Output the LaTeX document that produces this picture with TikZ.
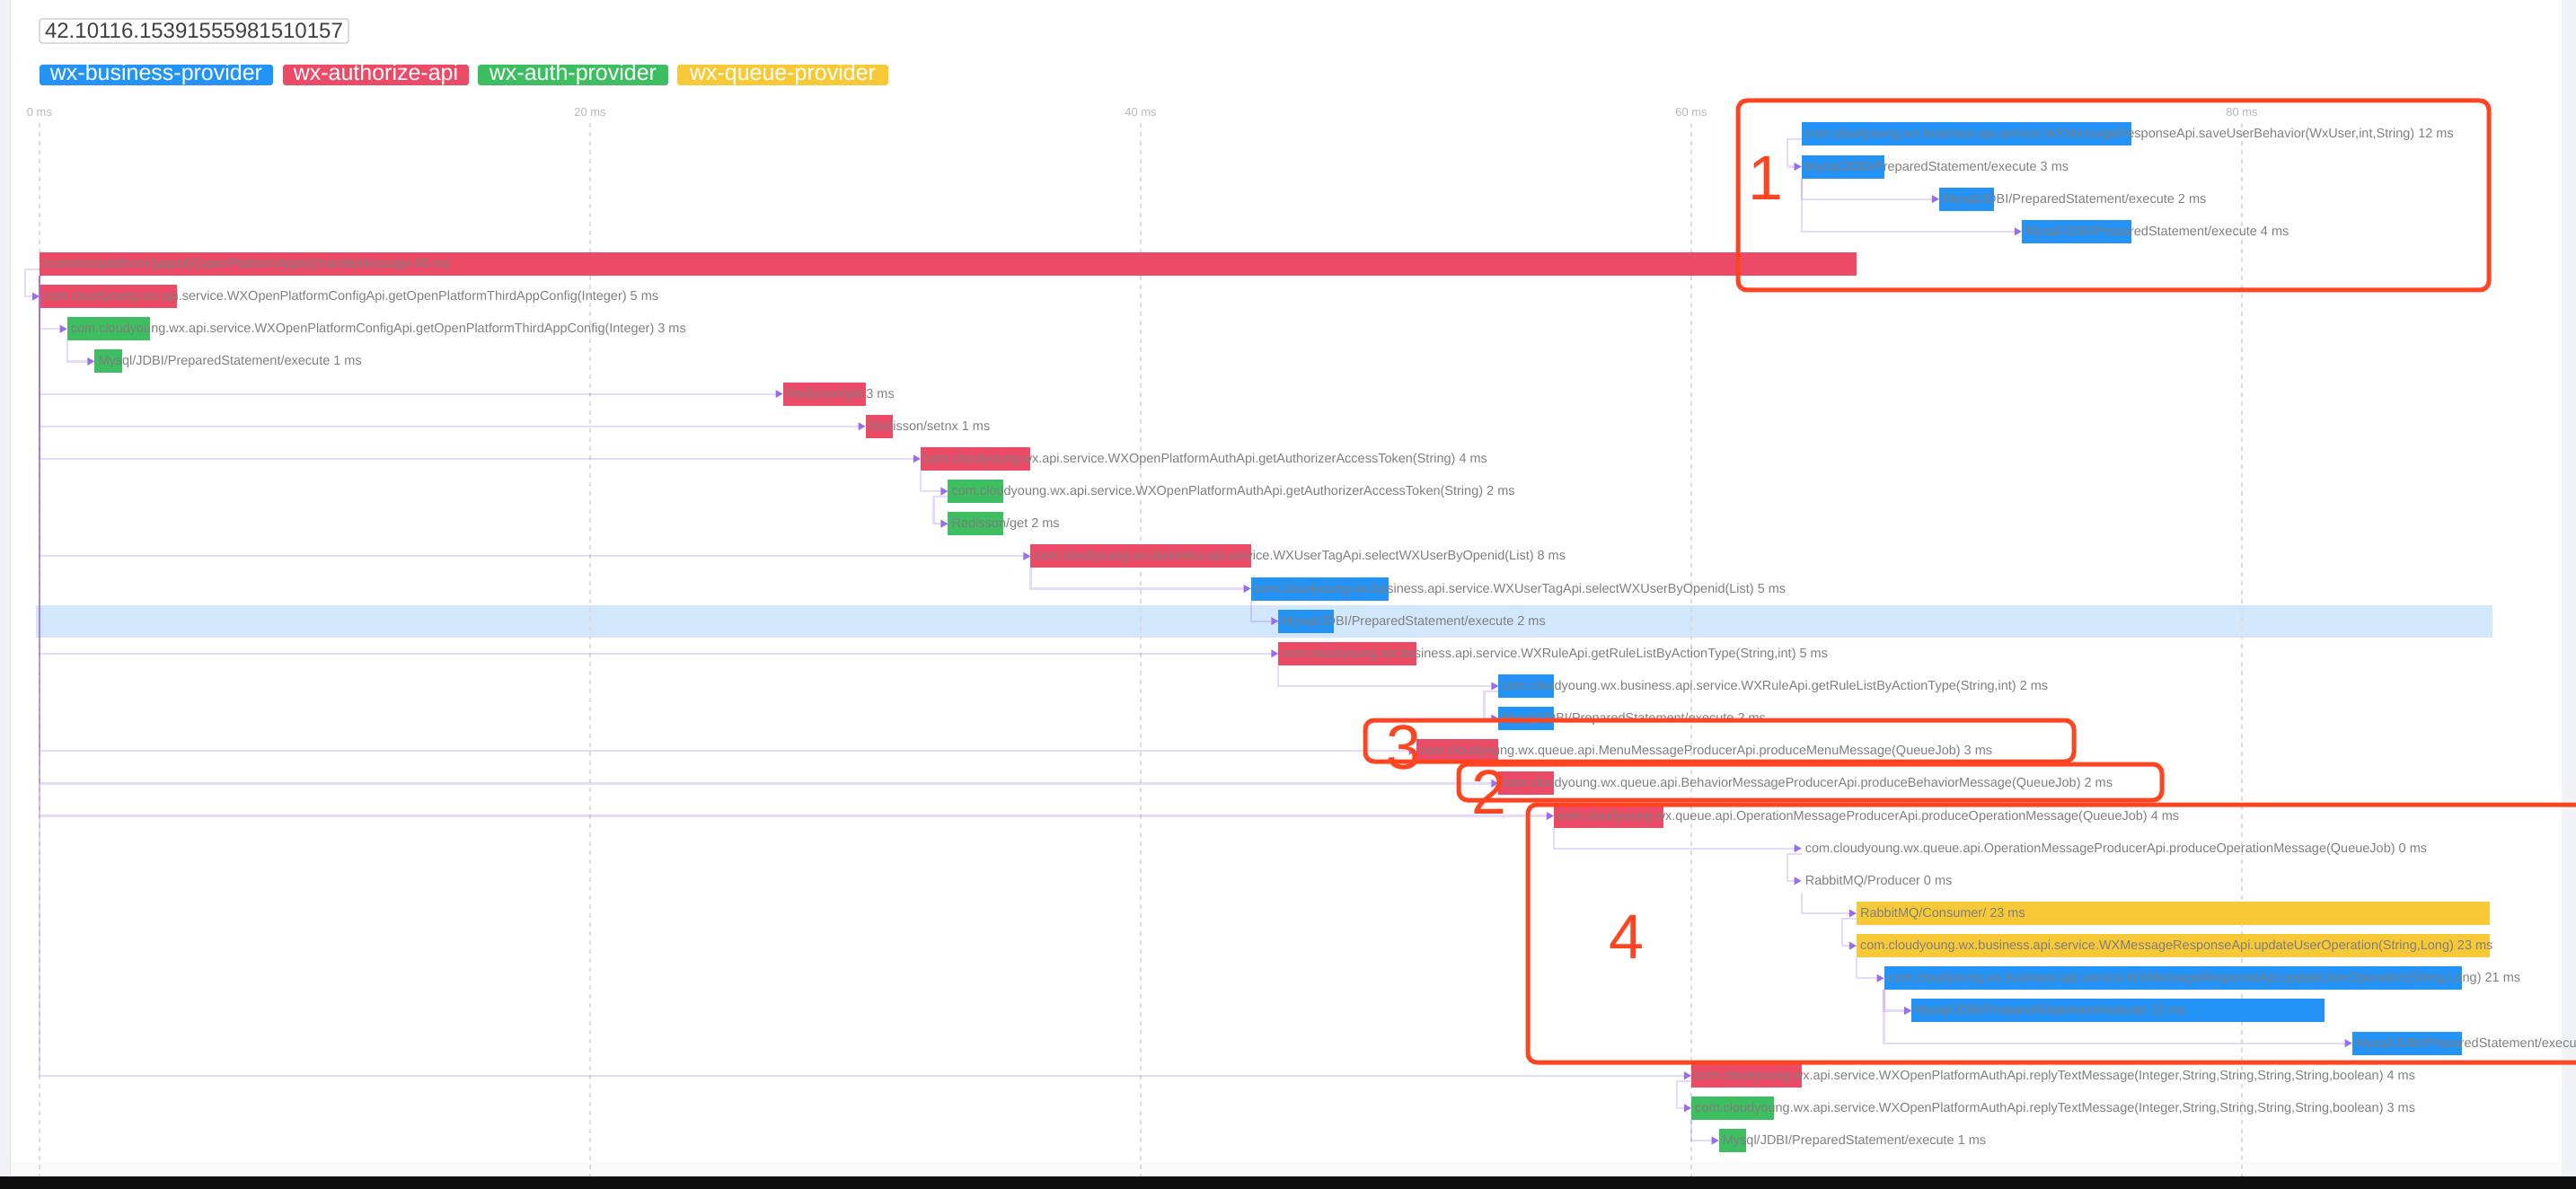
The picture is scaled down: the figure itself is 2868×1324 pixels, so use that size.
\documentclass[tikz,border=0pt]{standalone}
\usepackage{fontspec}
\setmainfont{Liberation Sans}
\usetikzlibrary{arrows.meta,positioning}

\definecolor{bizblue}{HTML}{2393F7}
\definecolor{authred}{HTML}{EC4B68}
\definecolor{authgreen}{HTML}{3DBE60}
\definecolor{queueyellow}{HTML}{F8C936}
\definecolor{linkpurple}{HTML}{9B6CF0}
\definecolor{rowhl}{HTML}{D3E7FC}
\definecolor{txtgray}{HTML}{7F7F7F}
\definecolor{gridgray}{HTML}{DDDDDD}
\definecolor{markred}{HTML}{FF4422}
\definecolor{sidegray}{HTML}{F0F2F5}

\newcommand{\msw}{30.65pt}

\tikzset{
  bar/.style={anchor=west, minimum height=26pt, inner sep=0pt, outer sep=0pt},
  bizbar/.style={bar, fill=bizblue},
  redbar/.style={bar, fill=authred},
  greenbar/.style={bar, fill=authgreen},
  queuebar/.style={bar, fill=queueyellow},
  txt/.style={anchor=base west, inner sep=0pt, text=txtgray, font=\fontsize{14.5}{17}\selectfont},
  link/.style={draw=linkpurple, draw opacity=0.25, line width=2.2pt, -{Triangle[length=8pt,width=9pt,line width=0pt]}},
  gridline/.style={draw=gridgray, line width=1.3pt, dash pattern=on 5pt off 5pt},
  axislbl/.style={text=black!28, inner sep=0pt, font=\fontsize{13}{15}\selectfont},
  tag/.style={rounded corners=3pt, minimum height=23pt, inner sep=0pt, outer sep=0pt, text=white, text height=18pt, text depth=5pt, font=\fontsize{25}{28}\selectfont},
  markbox/.style={draw=markred, line width=5pt, rounded corners=10pt},
  marknum/.style={text=markred, inner sep=0pt, font=\fontsize{70}{80}\selectfont},
}

\begin{document}
\begin{tikzpicture}[x=1pt, y=-1pt]
    \useasboundingbox (0,0) rectangle (2868,1324);

    % page frame
    \fill[sidegray] (0,0) rectangle (11,1310);
    \draw[black!10, line width=1pt] (11.5,0) -- (11.5,1310);
    \fill[sidegray] (2852,0) rectangle (2868,1310);
    \fill[black!2] (12,1294) rectangle (2852,1310);
    \fill[black!94] (0,1310) rectangle (2868,1324);

    % trace id and legend
    \node[draw=black!22, line width=1.2pt, rounded corners=3pt, minimum width=344pt, minimum height=27pt, inner sep=0pt, text=black!75, font=\fontsize{24}{26}\selectfont] (traceid) at (216,34.5) {42.10116.15391555981510157};
    \node[tag, fill=bizblue, minimum width=260pt] (tagbiz) at (174,83.5) {wx-business-provider};
    \node[tag, fill=authred, minimum width=207pt, right=11pt of tagbiz] (tagauth) {wx-authorize-api};
    \node[tag, fill=authgreen, minimum width=212pt, right=10pt of tagauth] (tagauthp) {wx-auth-provider};
    \node[tag, fill=queueyellow, minimum width=235pt, right=10pt of tagauthp] (tagqueue) {wx-queue-provider};

    % selected row
    \fill[rowhl] (39.5,673.5) rectangle (2775,709.5);

    % time axis
    \foreach \i/\t in {0/0,1/20,2/40,3/60,4/80} {
        \draw[gridline] (44+613*\i,137) -- (44+613*\i,1310);
        \node[axislbl] (ms\i) at (44+613*\i,125) {\t\ ms};
    }

    \begin{scope}[shift={(44,294)}, x=30.65pt, y=-36.15pt]

    % bars
    \node[redbar, minimum width=66*\msw] (root) at (0,0) {};
    \node[redbar, minimum width=5*\msw] (r1) at (0,1) {};
    \node[greenbar, minimum width=3*\msw] (r2) at (1,2) {};
    \node[greenbar, minimum width=1*\msw] (r3) at (2,3) {};
    \node[redbar, minimum width=3*\msw] (r4) at (27,4) {};
    \node[redbar, minimum width=1*\msw] (r5) at (30,5) {};
    \node[redbar, minimum width=4*\msw] (r6) at (32,6) {};
    \node[greenbar, minimum width=2*\msw] (r7) at (33,7) {};
    \node[greenbar, minimum width=2*\msw] (r8) at (33,8) {};
    \node[redbar, minimum width=8*\msw] (r9) at (36,9) {};
    \node[bizbar, minimum width=5*\msw] (r10) at (44,10) {};
    \node[bizbar, minimum width=2*\msw] (r11) at (45,11) {};
    \node[redbar, minimum width=5*\msw] (r12) at (45,12) {};
    \node[bizbar, minimum width=2*\msw] (r13) at (53,13) {};
    \node[bizbar, minimum width=2*\msw] (r14) at (53,14) {};
    \node[redbar, minimum width=3*\msw] (r15) at (50,15) {};
    \node[redbar, minimum width=2*\msw] (r16) at (53,16) {};
    \node[redbar, minimum width=4*\msw] (r17) at (55,17) {};
    \coordinate (r18) at (64,18);
    \coordinate (r19) at (64,19);
    \node[queuebar, minimum width=23*\msw] (r20) at (66,20) {};
    \node[queuebar, minimum width=23*\msw] (r21) at (66,21) {};
    \node[bizbar, minimum width=21*\msw] (r22) at (67,22) {};
    \node[bizbar, minimum width=15*\msw] (r23) at (68,23) {};
    \node[bizbar, minimum width=4*\msw] (r24) at (84,24) {};
    \node[redbar, minimum width=4*\msw] (r25) at (60,25) {};
    \node[greenbar, minimum width=3*\msw] (r26) at (60,26) {};
    \node[greenbar, minimum width=1*\msw] (r27) at (61,27) {};

    % pasted rows (box 1)
    \node[bizbar, minimum width=12*\msw] (b1) at (64,-4) {};
    \node[bizbar, minimum width=3*\msw] (b2) at (64,-3) {};
    \node[bizbar, minimum width=2*\msw] (b3) at (69,-2) {};
    \node[bizbar, minimum width=4*\msw] (b4) at (72,-1) {};

    % links
    \draw[link] ([yshift=-6pt]root.west) -- ++(-16pt,0pt) |- (r1.west); % root -> r1
    \draw[link] (r1.south west) |- (r2.west); % r1 -> r2
    \draw[link] (r2.south west) |- (r3.west); % r2 -> r3
    \draw[link] (root.south west) |- (r4.west); % root -> r4
    \draw[link] (root.south west) |- (r5.west); % root -> r5
    \draw[link] (root.south west) |- (r6.west); % root -> r6
    \draw[link] (r6.south west) |- (r7.west); % r6 -> r7
    \draw[link] ([yshift=-6pt]r7.west) -- ++(-16pt,0pt) |- (r8.west); % r7 -> r8
    \draw[link] (root.south west) |- (r9.west); % root -> r9
    \draw[link] (r9.south west) |- (r10.west); % r9 -> r10
    \draw[link] (r10.south west) |- (r11.west); % r10 -> r11
    \draw[link] (root.south west) |- (r12.west); % root -> r12
    \draw[link] (r12.south west) |- (r13.west); % r12 -> r13
    \draw[link] ([yshift=-6pt]r13.west) -- ++(-16pt,0pt) |- (r14.west); % r13 -> r14
    \draw[link] (root.south west) |- (r15.west); % root -> r15
    \draw[link] (root.south west) |- (r16.west); % root -> r16
    \draw[link] (root.south west) |- (r17.west); % root -> r17
    \draw[link] (r17.south west) |- (r18); % r17 -> r18
    \draw[link] ([yshift=-6pt]r18) -- ++(-16pt,0pt) |- (r19); % r18 -> r19
    \draw[link] ([yshift=-13pt]r19) |- (r20.west); % r19 -> r20
    \draw[link] ([yshift=-6pt]r20.west) -- ++(-16pt,0pt) |- (r21.west); % r20 -> r21
    \draw[link] (r21.south west) |- (r22.west); % r21 -> r22
    \draw[link] (r22.south west) |- (r23.west); % r22 -> r23
    \draw[link] (r22.south west) |- (r24.west); % r22 -> r24
    \draw[link] (root.south west) |- (r25.west); % root -> r25
    \draw[link] ([yshift=-6pt]r25.west) -- ++(-16pt,0pt) |- (r26.west); % r25 -> r26
    \draw[link] (r26.south west) |- (r27.west); % r26 -> r27
    \draw[link] ([yshift=-6pt]b1.west) -- ++(-16pt,0pt) |- (b2.west); % b1 -> b2
    \draw[link] (b2.south west) |- (b3.west); % b2 -> b3
    \draw[link] (b2.south west) |- (b4.west); % b2 -> b4

    % labels
    \node[txt] (roott) at ([xshift=4pt,yshift=-4.5pt]root.west) {/common/platfrom/\{appid\}/\{openPlatformAppId\}/handleMessage 66 ms};
    \node[txt] (r1t) at ([xshift=4pt,yshift=-4.5pt]r1.west) {com.cloudyoung.wx.api.service.WXOpenPlatformConfigApi.getOpenPlatformThirdAppConfig(Integer) 5 ms};
    \node[txt] (r2t) at ([xshift=4pt,yshift=-4.5pt]r2.west) {com.cloudyoung.wx.api.service.WXOpenPlatformConfigApi.getOpenPlatformThirdAppConfig(Integer) 3 ms};
    \node[txt] (r3t) at ([xshift=4pt,yshift=-4.5pt]r3.west) {Mysql/JDBI/PreparedStatement/execute 1 ms};
    \node[txt] (r4t) at ([xshift=4pt,yshift=-4.5pt]r4.west) {Redisson/get 3 ms};
    \node[txt] (r5t) at ([xshift=4pt,yshift=-4.5pt]r5.west) {Redisson/setnx 1 ms};
    \node[txt] (r6t) at ([xshift=4pt,yshift=-4.5pt]r6.west) {com.cloudyoung.wx.api.service.WXOpenPlatformAuthApi.getAuthorizerAccessToken(String) 4 ms};
    \node[txt] (r7t) at ([xshift=4pt,yshift=-4.5pt]r7.west) {com.cloudyoung.wx.api.service.WXOpenPlatformAuthApi.getAuthorizerAccessToken(String) 2 ms};
    \node[txt] (r8t) at ([xshift=4pt,yshift=-4.5pt]r8.west) {Redisson/get 2 ms};
    \node[txt] (r9t) at ([xshift=4pt,yshift=-4.5pt]r9.west) {com.cloudyoung.wx.business.api.service.WXUserTagApi.selectWXUserByOpenid(List) 8 ms};
    \node[txt] (r10t) at ([xshift=4pt,yshift=-4.5pt]r10.west) {com.cloudyoung.wx.business.api.service.WXUserTagApi.selectWXUserByOpenid(List) 5 ms};
    \node[txt] (r11t) at ([xshift=4pt,yshift=-4.5pt]r11.west) {Mysql/JDBI/PreparedStatement/execute 2 ms};
    \node[txt] (r12t) at ([xshift=4pt,yshift=-4.5pt]r12.west) {com.cloudyoung.wx.business.api.service.WXRuleApi.getRuleListByActionType(String,int) 5 ms};
    \node[txt] (r13t) at ([xshift=4pt,yshift=-4.5pt]r13.west) {com.cloudyoung.wx.business.api.service.WXRuleApi.getRuleListByActionType(String,int) 2 ms};
    \node[txt] (r14t) at ([xshift=4pt,yshift=-4.5pt]r14.west) {Mysql/JDBI/PreparedStatement/execute 2 ms};
    \node[txt] (r15t) at ([xshift=4pt,yshift=-4.5pt]r15.west) {com.cloudyoung.wx.queue.api.MenuMessageProducerApi.produceMenuMessage(QueueJob) 3 ms};
    \node[txt] (r16t) at ([xshift=4pt,yshift=-4.5pt]r16.west) {com.cloudyoung.wx.queue.api.BehaviorMessageProducerApi.produceBehaviorMessage(QueueJob) 2 ms};
    \node[txt] (r17t) at ([xshift=4pt,yshift=-4.5pt]r17.west) {com.cloudyoung.wx.queue.api.OperationMessageProducerApi.produceOperationMessage(QueueJob) 4 ms};
    \node[txt] (r18t) at ([xshift=4pt,yshift=-4.5pt]r18) {com.cloudyoung.wx.queue.api.OperationMessageProducerApi.produceOperationMessage(QueueJob) 0 ms};
    \node[txt] (r19t) at ([xshift=4pt,yshift=-4.5pt]r19) {RabbitMQ/Producer 0 ms};
    \node[txt] (r20t) at ([xshift=4pt,yshift=-4.5pt]r20.west) {RabbitMQ/Consumer/ 23 ms};
    \node[txt] (r21t) at ([xshift=4pt,yshift=-4.5pt]r21.west) {com.cloudyoung.wx.business.api.service.WXMessageResponseApi.updateUserOperation(String,Long) 23 ms};
    \node[txt] (r22t) at ([xshift=4pt,yshift=-4.5pt]r22.west) {com.cloudyoung.wx.business.api.service.WXMessageResponseApi.updateUserOperation(String,Long) 21 ms};
    \node[txt] (r23t) at ([xshift=4pt,yshift=-4.5pt]r23.west) {Mysql/JDBI/PreparedStatement/execute 15 ms};
    \node[txt] (r24t) at ([xshift=4pt,yshift=-4.5pt]r24.west) {Mysql/JDBI/PreparedStatement/execu};
    \node[txt] (r25t) at ([xshift=4pt,yshift=-4.5pt]r25.west) {com.cloudyoung.wx.api.service.WXOpenPlatformAuthApi.replyTextMessage(Integer,String,String,String,String,boolean) 4 ms};
    \node[txt] (r26t) at ([xshift=4pt,yshift=-4.5pt]r26.west) {com.cloudyoung.wx.api.service.WXOpenPlatformAuthApi.replyTextMessage(Integer,String,String,String,String,boolean) 3 ms};
    \node[txt] (r27t) at ([xshift=4pt,yshift=-4.5pt]r27.west) {Mysql/JDBI/PreparedStatement/execute 1 ms};
    \node[txt] (b1t) at ([xshift=4pt,yshift=-4.5pt]b1.west) {com.cloudyoung.wx.business.api.service.WXMessageResponseApi.saveUserBehavior(WxUser,int,String) 12 ms};
    \node[txt] (b2t) at ([xshift=4pt,yshift=-4.5pt]b2.west) {Mysql/JDBI/PreparedStatement/execute 3 ms};
    \node[txt] (b3t) at ([xshift=4pt,yshift=-4.5pt]b3.west) {Mysql/JDBI/PreparedStatement/execute 2 ms};
    \node[txt] (b4t) at ([xshift=4pt,yshift=-4.5pt]b4.west) {Mysql/JDBI/PreparedStatement/execute 4 ms};

    \end{scope}

    % red marks
    \draw[markbox] (1935,112) rectangle (2771,323); % box 1
    \draw[markbox] (1520,802) rectangle (2309,848); % box 3
    \draw[markbox] (1624,851) rectangle (2407,891); % box 2
    \draw[markbox] (2868,896) -- (1701,896) -- (1701,1183) -- (2868,1183); % box 4
    \node[marknum] (mark1) at (1966,198) {1};
    \node[marknum] (mark2) at (1658,882) {2};
    \node[marknum] (mark3) at (1563,832) {3};
    \node[marknum] (mark4) at (1811,1043) {4};

\end{tikzpicture}
\end{document}
